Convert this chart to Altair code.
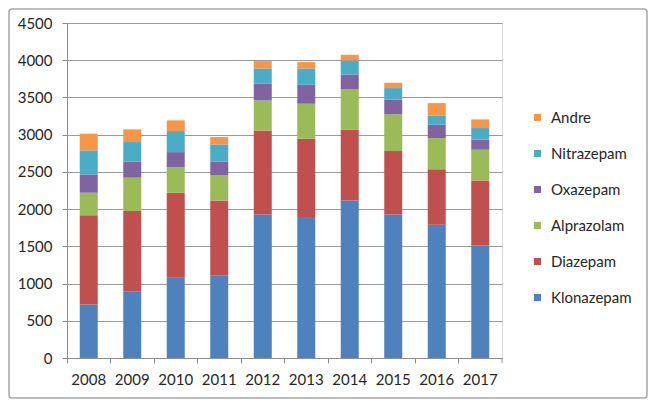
import altair as alt
import pandas as pd

years = ["2008", "2009", "2010", "2011", "2012", "2013", "2014", "2015", "2016", "2017"]
klonazepam = [720, 895, 1079, 1110, 1929, 1893, 2117, 1929, 1790, 1510]
diazepam = [1196, 1079, 1141, 1007, 1128, 1052, 954, 851, 744, 876]
alprazolam = [304, 448, 345, 336, 403, 470, 537, 492, 420, 412]
oxazepam = [246, 219, 201, 188, 224, 255, 201, 197, 179, 134]
nitrazepam = [323, 260, 282, 228, 206, 220, 188, 157, 126, 157]
andre = [224, 170, 144, 99, 98, 85, 76, 71, 165, 116]

series = ["Klonazepam", "Diazepam", "Alprazolam", "Oxazepam", "Nitrazepam", "Andre"]
values = [klonazepam, diazepam, alprazolam, oxazepam, nitrazepam, andre]
colors = ["#4F81BD", "#C0504D", "#9BBB59", "#8064A2", "#4BACC6", "#F79646"]

rows = []
for si, (name, vals) in enumerate(zip(series, values)):
    for y, v in zip(years, vals):
        rows.append({"year": y, "drug": name, "value": v, "ord": si})
df = pd.DataFrame(rows)

legend_order = list(reversed(series))
legend_colors = list(reversed(colors))

FONT = "Lato"
TXT = "#262626"

bars = alt.Chart(df).mark_bar(size=18).encode(
    x=alt.X("year:N", sort=years, title=None,
            scale=alt.Scale(paddingInner=0, paddingOuter=0),
            axis=alt.Axis(labelAngle=0, labelFontSize=15, labelFont=FONT, labelColor=TXT,
                          domainColor="#8c8c8c", tickColor="#8c8c8c", tickSize=5,
                          bandPosition=0, labelPadding=9, grid=False)),
    y=alt.Y("value:Q", stack="zero", title=None,
            scale=alt.Scale(domain=[0, 4500], nice=False),
            axis=alt.Axis(values=list(range(0, 4501, 500)), format="d", labelFontSize=15,
                          labelFont=FONT, labelColor=TXT, domainColor="#8c8c8c",
                          tickColor="#8c8c8c", tickSize=5, labelPadding=10,
                          gridColor="#9a9a9a", gridWidth=1)),
    color=alt.Color("drug:N", scale=alt.Scale(domain=legend_order, range=legend_colors),
                    legend=alt.Legend(title=None, orient="none", legendX=463, legendY=87,
                                      symbolType="square", symbolSize=50, symbolStrokeWidth=0,
                                      labelFontSize=15, labelFont=FONT, labelColor=TXT,
                                      rowPadding=20, labelOffset=6)),
    order=alt.Order("ord:Q", sort="ascending"),
)

endtick = alt.Chart(pd.DataFrame({"a": [0]})).mark_rule(color="#8c8c8c").encode(
    x=alt.value(435), y=alt.value(335), y2=alt.value(340)
)

frame = alt.Chart(pd.DataFrame({"a": [0]})).mark_rect(
    fill=None, stroke="#a8a8a8", strokeWidth=1.5, cornerRadius=3, clip=False
).encode(
    x=alt.value(-58), x2=alt.value(580), y=alt.value(-14), y2=alt.value(375)
)

chart = alt.layer(frame, bars, endtick).properties(
    width=435, height=335,
    autosize=alt.AutoSizeParams(type="none"),
    padding={"left": 59, "top": 15, "right": 146, "bottom": 42},
).configure_view(stroke=None).configure(background="white")

chart.save("out.html", embed_options={"renderer": "svg", "actions": False})
